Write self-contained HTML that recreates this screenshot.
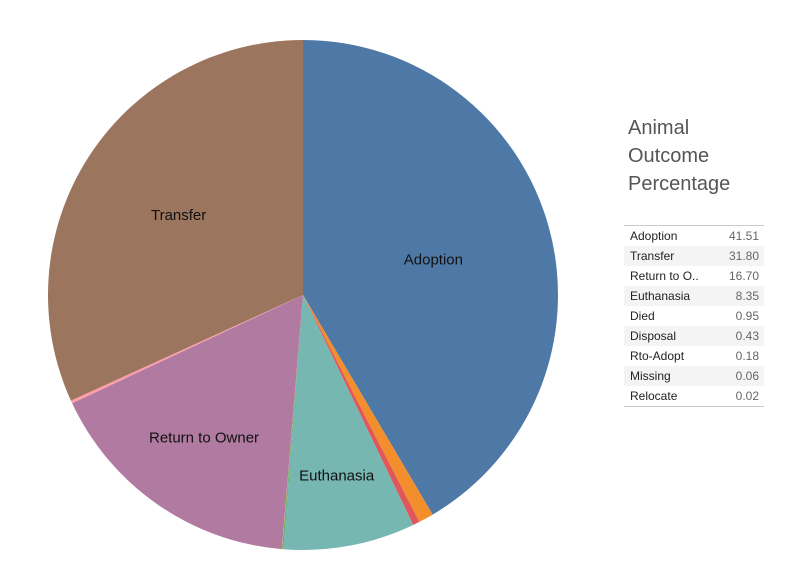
<!DOCTYPE html>
<html><head><meta charset="utf-8"><style>
body{margin:0;background:#fff;width:807px;height:583px;overflow:hidden;font-family:"Liberation Sans",sans-serif;}
#title{position:absolute;left:628px;top:114px;font-size:20px;line-height:28px;color:#555;font-weight:300;}
#tbl{position:absolute;left:624px;top:225px;width:140px;border-top:1px solid #ccc;border-bottom:1px solid #ccc;}
.row{height:20px;font-size:12px;line-height:20px;display:flex;justify-content:space-between;padding:0 5px 0 6px;}
.row .n{color:#222}.row .v{color:#666}
.row:nth-child(even){background:#f4f4f4}
</style></head><body>
<svg id="pie" width="807" height="583" style="position:absolute;left:0;top:0"></svg>
<div id="title">Animal<br>Outcome<br>Percentage</div>
<div id="tbl"></div>
<script>
const categories=["Adoption","Died","Disposal","Euthanasia","Missing","Relocate","Return to Owner","Rto-Adopt","Transfer"];
const values=[41.51,0.95,0.43,8.35,0.06,0.02,16.70,0.18,31.80];
const colors=["#4e79a7","#f28e2b","#e15759","#76b7b2","#59a14f","#edc948","#b07aa1","#ff9da7","#9c755f"];
const tableNames=["Adoption","Transfer","Return to O..","Euthanasia","Died","Disposal","Rto-Adopt","Missing","Relocate"];
const tableValues=["41.51","31.80","16.70","8.35","0.95","0.43","0.18","0.06","0.02"];
const labeled=["Adoption","Transfer","Return to Owner","Euthanasia"];
const labelRadius={"Adoption":0.53,"Transfer":0.58,"Return to Owner":0.68,"Euthanasia":0.72};
const NS="http://www.w3.org/2000/svg";
const svg=document.getElementById('pie');
const cx=303,cy=295,R=255;
const total=values.reduce((a,b)=>a+b,0);
function pt(a,r){return [cx+r*Math.sin(a),cy-r*Math.cos(a)];}
let acc=0;
values.forEach((v,i)=>{
  const a0=acc/total*2*Math.PI; acc+=v; const a1=acc/total*2*Math.PI;
  const p0=pt(a0,R),p1=pt(a1,R);
  const large=(a1-a0)>Math.PI?1:0;
  const p=document.createElementNS(NS,'path');
  p.setAttribute('d',`M${cx},${cy}L${p0[0]},${p0[1]}A${R},${R} 0 ${large} 1 ${p1[0]},${p1[1]}Z`);
  p.setAttribute('fill',colors[i]);
  
  
  svg.appendChild(p);
  if(labeled.includes(categories[i])){
    const m=pt((a0+a1)/2,R*labelRadius[categories[i]]);
    const t=document.createElementNS(NS,'text');
    t.setAttribute('x',m[0]);t.setAttribute('y',m[1]+5);t.setAttribute('text-anchor','middle');
    t.setAttribute('font-size','15');t.setAttribute('fill','#111');t.setAttribute('font-family','Liberation Sans, sans-serif');
    t.textContent=categories[i];
    
    
    svg.appendChild(t);
  }
});
const tbl=document.getElementById('tbl');
tableNames.forEach((n,i)=>{
  const r=document.createElement('div');r.className='row';
  
  
  r.innerHTML='<span class="n">'+n+'</span><span class="v">'+tableValues[i]+'</span>';
  tbl.appendChild(r);
});
</script>
</body></html>
